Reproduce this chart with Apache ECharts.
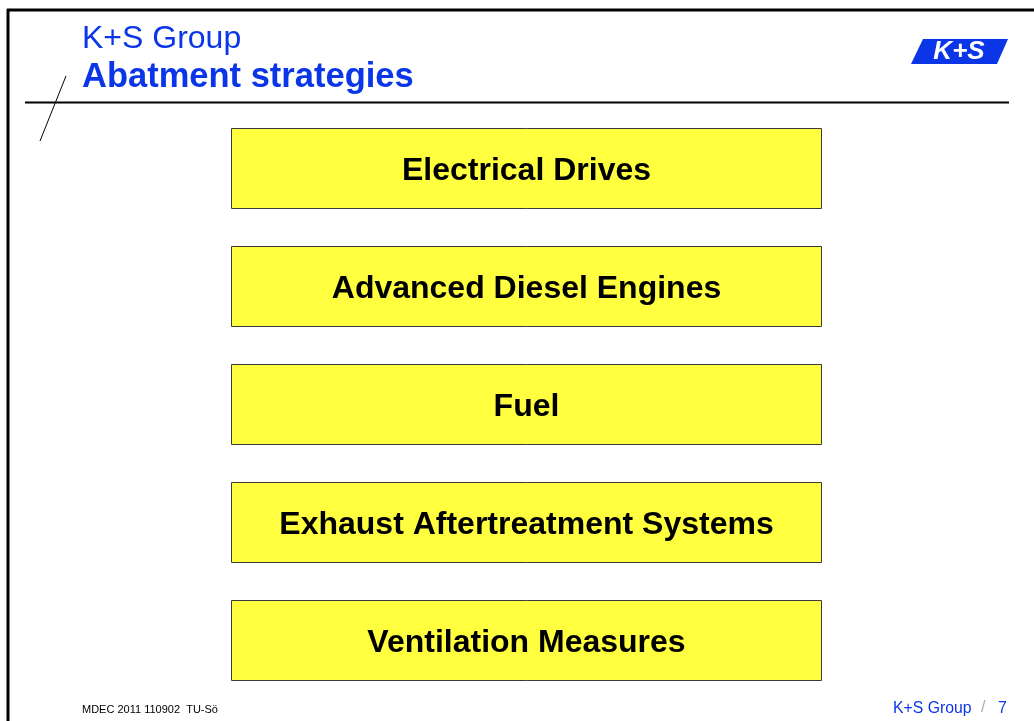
<!DOCTYPE html>
<html>
<head>
<meta charset="utf-8">
<title>K+S Group - Abatment strategies</title>
<script src="https://cdn.jsdelivr.net/npm/echarts@6/dist/echarts.min.js"></script>
<style>
    html, body { margin: 0; padding: 0; background: #fff; }
    #main { width: 1034px; height: 721px; }
</style>
</head>
<body>
<div id="main"></div>
<script>
// slide content
var groupName = "K+S Group";
var slideTitle = "Abatment strategies";
var strategies = ["Electrical Drives", "Advanced Diesel Engines", "Fuel", "Exhaust Aftertreatment Systems", "Ventilation Measures"];
var boxSpan = [1, 1, 1, 1, 1];
var footerLeft = "MDEC 2011 110902  TU-Sö";
var pageNo = "7";

initSlide("main");

/**
 * 初始化幻灯片
 * @param id 容器id
 */
function initSlide(id) {
    var container = echarts.init(document.getElementById(id));
    var blue = "#0a36e8";
    var option = {
        animation: false,
        grid: {
            left: 231,
            width: 591,
            top: 109.5,
            height: 590
        },
        xAxis: {
            type: 'value',
            min: 0,
            max: 1,
            show: false
        },
        yAxis: {
            type: 'category',
            data: strategies,
            inverse: true,
            show: false
        },
        series: [
            {
                type: 'bar',
                data: boxSpan,
                barWidth: 81,
                itemStyle: {
                    color: "#ffff40",
                    borderColor: "#3a3a3a",
                    borderWidth: 1
                },
                label: {
                    show: true,
                    position: 'inside',
                    offset: [0, 3],
                    formatter: function (p) { return p.name; },
                    color: "#000",
                    fontFamily: "Liberation Sans, Arial",
                    fontWeight: 'bold',
                    fontSize: 32
                },
                silent: true
            }
        ],
        graphic: [
            // 边框
            { type: 'line', shape: { x1: 7, y1: 10, x2: 1034, y2: 10 }, style: { stroke: "#000", lineWidth: 3 } },
            { type: 'line', shape: { x1: 8, y1: 9, x2: 8, y2: 721 }, style: { stroke: "#000", lineWidth: 3 } },
            // 标题线
            { type: 'line', shape: { x1: 25, y1: 102.5, x2: 1009, y2: 102.5 }, style: { stroke: "#000", lineWidth: 2 } },
            { type: 'line', shape: { x1: 40, y1: 141, x2: 66, y2: 76 }, style: { stroke: "#000", lineWidth: 1 } },
            // 标题
            { type: 'text', left: 82, top: 23, style: { text: groupName, fill: blue, font: "32px 'Liberation Sans', Arial" } },
            { type: 'text', left: 82, top: 60, style: { text: slideTitle, fill: blue, font: "bold 34.5px 'Liberation Sans', Arial" } },
            // logo
            { type: 'polygon', shape: { points: [[923, 39], [1008, 39], [997, 64], [911, 64]] }, style: { fill: blue } },
            { type: 'text', x: 959, y: 52, style: { text: "K+S", fill: "#fff", font: "italic bold 26px 'Liberation Sans', Arial", align: 'center', verticalAlign: 'middle' } },
            // 页脚
            { type: 'text', left: 82, top: 704, style: { text: footerLeft, fill: "#000", font: "11px 'Liberation Sans', Arial" } },
            { type: 'text', left: 893, top: 701, style: { text: groupName, fill: blue, font: "15.8px 'Liberation Sans', Arial" } },
            { type: 'text', left: 981, top: 700, style: { text: "/", fill: "#aaa", font: "16px 'Liberation Sans', Arial" } },
            { type: 'text', left: 998, top: 701, style: { text: pageNo, fill: blue, font: "15.8px 'Liberation Sans', Arial" } }
        ]
    };
    container.setOption(option);
}
</script>
</body>
</html>
